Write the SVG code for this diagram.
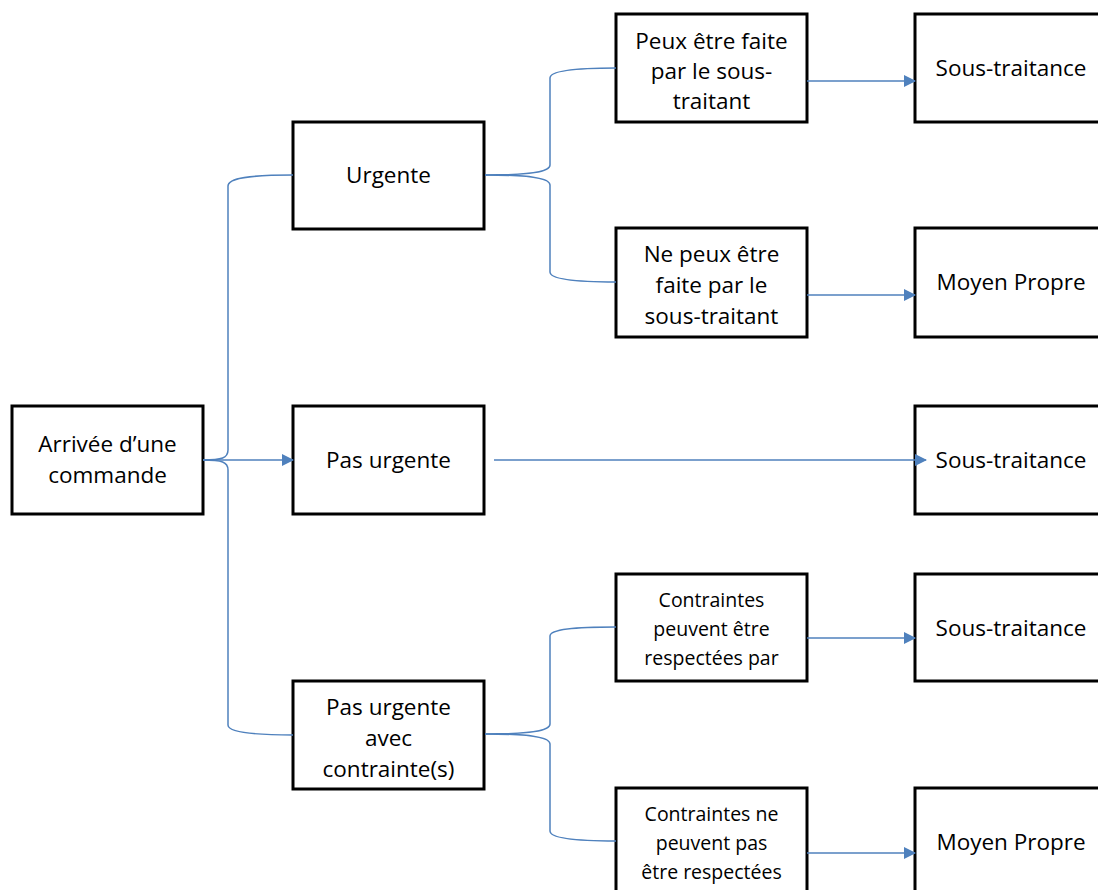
<svg xmlns="http://www.w3.org/2000/svg" width="1098" height="890" viewBox="0 0 1098 890">
<defs>
<style>
.box{fill:#fff;stroke:#000;stroke-width:3}
.t{font-family:"Open Sans","Noto Sans",sans-serif;font-size:22.5px;fill:#000;text-anchor:middle}
.s{font-size:19.5px}
.c{fill:none;stroke:#4f81bd;stroke-width:1.5}
</style>
<marker id="ah" markerWidth="12" markerHeight="12" refX="11" refY="6" orient="auto" markerUnits="userSpaceOnUse">
<path d="M0,0 L12,6 L0,12 Z" fill="#4f81bd"/>
</marker>
</defs>
<rect width="1098" height="890" fill="#fff"/>
<g id="n-arrivee"><rect class="box" x="12" y="406" width="191" height="108"/><text class="t" x="107.5" y="452">Arrivée d’une</text><text class="t" x="107.5" y="483">commande</text></g>
<g id="n-urgente"><rect class="box" x="293" y="122" width="191" height="107"/><text class="t" x="388.5" y="183">Urgente</text></g>
<g id="n-pasurgente"><rect class="box" x="293" y="406" width="191" height="108"/><text class="t" x="388.5" y="468">Pas urgente</text></g>
<g id="n-contraintes"><rect class="box" x="293" y="681" width="191" height="108"/><text class="t" x="388.5" y="715">Pas urgente</text><text class="t" x="388.5" y="746">avec</text><text class="t" x="388.5" y="777">contrainte(s)</text></g>
<g id="n-peux"><rect class="box" x="616" y="14" width="191" height="108"/><text class="t" x="711.5" y="49">Peux être faite</text><text class="t" x="711.5" y="79">par le sous-</text><text class="t" x="711.5" y="109">traitant</text></g>
<g id="n-nepeux"><rect class="box" x="616" y="228" width="191" height="109"/><text class="t" x="711.5" y="262">Ne peux être</text><text class="t" x="711.5" y="293">faite par le</text><text class="t" x="711.5" y="324">sous-traitant</text></g>
<g id="n-cpeuvent"><rect class="box" x="616" y="574" width="191" height="107"/><text class="t s" x="711.5" y="607">Contraintes</text><text class="t s" x="711.5" y="636">peuvent être</text><text class="t s" x="711.5" y="665">respectées par</text></g>
<g id="n-cnepeuvent"><rect class="box" x="616" y="788" width="191" height="110"/><text class="t s" x="711.5" y="821">Contraintes ne</text><text class="t s" x="711.5" y="850">peuvent pas</text><text class="t s" x="711.5" y="879">être respectées</text></g>
<g id="n-st1"><rect class="box" x="915" y="14" width="192" height="108"/><text class="t" x="1011" y="76">Sous-traitance</text></g>
<g id="n-mp1"><rect class="box" x="915" y="228" width="192" height="109"/><text class="t" x="1011" y="290">Moyen Propre</text></g>
<g id="n-st2"><rect class="box" x="915" y="406" width="192" height="108"/><text class="t" x="1011" y="468">Sous-traitance</text></g>
<g id="n-st3"><rect class="box" x="915" y="574" width="192" height="107"/><text class="t" x="1011" y="636">Sous-traitance</text></g>
<g id="n-mp2"><rect class="box" x="915" y="788" width="192" height="110"/><text class="t" x="1011" y="850">Moyen Propre</text></g>
<g id="connectors">
<path class="c" d="M203,460 C222,460 228,458 228,450 L228,186 C228,178 250,175 293,175"/>
<path class="c" d="M203,460 C222,460 228,462 228,470 L228,725 C228,732 250,735 293,735"/>
<path class="c" d="M203,460 L293,460" marker-end="url(#ah)"/>
<path class="c" d="M485,175 C530,175 550,172 550,165 L550,78 C550,71 575,68 616,68"/>
<path class="c" d="M485,175 C530,175 550,178 550,185 L550,272 C550,279 575,282 616,282"/>
<path class="c" d="M485,734 C530,734 550,731 550,724 L550,636 C550,629 575,627 616,627"/>
<path class="c" d="M485,734 C530,734 550,737 550,744 L550,831 C550,838 575,841 616,841"/>
<path class="c" d="M807,81 L915,81" marker-end="url(#ah)"/>
<path class="c" d="M807,295 L915,295" marker-end="url(#ah)"/>
<path class="c" d="M494,460 L926,460" marker-end="url(#ah)"/>
<path class="c" d="M807,638 L915,638" marker-end="url(#ah)"/>
<path class="c" d="M807,853 L915,853" marker-end="url(#ah)"/>
</g>
</svg>
